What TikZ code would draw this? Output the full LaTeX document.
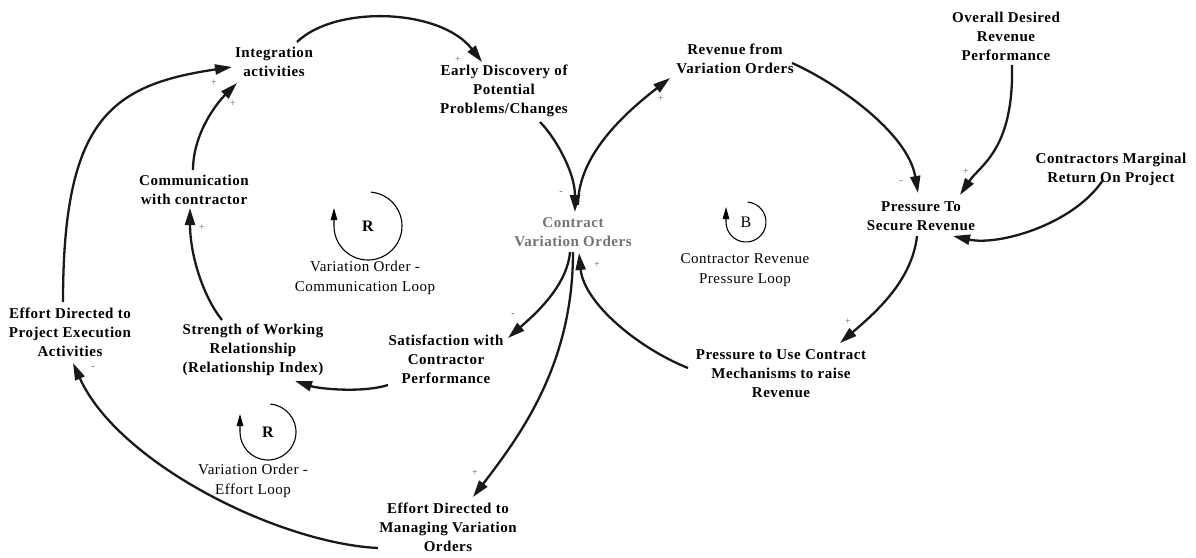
\documentclass[tikz,border=0pt]{standalone}
\usepackage{fontspec}
\setmainfont{Liberation Serif}
\newfontfamily\diagfont[LetterSpace=3.5]{Liberation Serif}
\usetikzlibrary{arrows.meta}
\begin{document}
\begin{tikzpicture}[x=1pt,y=-1pt,
  var/.style={font=\diagfont\fontsize{15}{19}\selectfont\bfseries, align=center, inner sep=0pt},
  cvo/.style={var, text=black!55},
  looplabel/.style={font=\diagfont\fontsize{15}{20}\selectfont, align=center, inner sep=0pt},
  loopsym/.style={font=\fontsize{16}{16}\selectfont\bfseries, inner sep=0pt},
  loopsymb/.style={font=\fontsize{16}{16}\selectfont, inner sep=0pt},
  sign/.style={font=\fontsize{10}{10}\selectfont, text=black!60, inner sep=0pt},
  link/.style={line width=2.3pt, draw=black!90, -{Triangle[length=17pt,width=10pt]}},
  loopline/.style={line width=1.1pt, -{Triangle[length=12pt,width=6.5pt]}}
]
\useasboundingbox (0,0) rectangle (1196,557);
\fill[white] (0,0) rectangle (1196,557);

% variables
\node[var] (int)      at (274,62)  {Integration\\activities};
\node[var] (early)    at (504,91)  {Early Discovery of\\Potential\\Problems/Changes};
\node[var] (rev)      at (735,59)  {Revenue from\\Variation Orders};
\node[var] (overall)  at (1006,36) {Overall Desired\\Revenue\\Performance};
\node[var] (marg)     at (1111,169){Contractors Marginal\\Return On Project};
\node[var] (press)    at (921,216) {Pressure To\\Secure Revenue};
\node[cvo] (cvo)      at (573,232) {Contract\\Variation Orders};
\node[var] (use)      at (781,374) {Pressure to Use Contract\\Mechanisms to raise\\Revenue};
\node[var] (sat)      at (446,359) {Satisfaction with\\Contractor\\Performance};
\node[var] (mgmt)     at (448,527) {Effort Directed to\\Managing Variation\\Orders};
\node[var] (strength) at (253,350) {Strength of Working\\Relationship\\(Relationship Index)};
\node[var] (comm)     at (194,190) {Communication\\with contractor};
\node[var] (exec)     at (70,332)  {Effort Directed to\\Project Execution\\Activities};

% loop markers
\node[loopsym] (r1) at (368,226) {R};
\draw[loopline] (r1.center) ++(-85:34) arc[start angle=-85, end angle=180, radius=34] -- ++(0,-18);
\node[looplabel] (l1) at (365,278) {Variation Order -\\Communication Loop};

\node[loopsym] (r2) at (268,432) {R};
\draw[loopline] (r2.center) ++(-85:28) arc[start angle=-85, end angle=180, radius=28] -- ++(0,-18);
\node[looplabel] (l2) at (253,481) {Variation Order -\\Effort Loop};

\node[loopsymb] (b1) at (746,222) {B};
\draw[loopline] (b1.center) ++(-85:20) arc[start angle=-85, end angle=180, radius=20] -- ++(0,-15);
\node[looplabel] (l3) at (745,270) {Contractor Revenue\\Pressure Loop};

% causal links
\draw[link] ([shift={(23,-20)}]int.center) .. controls +(38,-37) and +(-42,-54) .. ([shift={(-22,-29)}]early.center);
\draw[link] ([shift={(36,31)}]early.center) .. controls +(15,15) and +(0,-40) .. ([shift={(2,-20)}]cvo.center);
\draw[link] ([shift={(5,-27)}]cvo.center) .. controls +(0,-50) and +(-45,35) .. ([shift={(-65,19)}]rev.center);
\draw[link] ([shift={(57,4)}]rev.center) .. controls +(45,20) and +(-10,-60) .. ([shift={(-3,-23)}]press.center);
\draw[link] ([shift={(6,29)}]overall.center) .. controls +(2,85) and +(20,-30) .. ([shift={(39,-21)}]press.center);
\draw[link] ([shift={(-8,11)}]marg.center) .. controls +(-30,45) and +(45,10) .. ([shift={(32,20)}]press.center);
\draw[link] ([shift={(-4,20)}]press.center) .. controls +(-5,45) and +(35,-30) .. ([shift={(59,-31)}]use.center);
\draw[link] ([shift={(-93,-6)}]use.center) .. controls +(-50,-20) and +(5,50) .. ([shift={(6,21)}]cvo.center);
\draw[link] ([shift={(-3,20)}]cvo.center) .. controls +(-3,35) and +(25,-22) .. ([shift={(62,-21)}]sat.center);
\draw[link] ([shift={(0,20)}]cvo.center) .. controls +(0,110) and +(50,-65) .. ([shift={(25,-30)}]mgmt.center);
\draw[link] ([shift={(-58,26)}]sat.center) .. controls +(-25,8) and +(25,8) .. ([shift={(42,31)}]strength.center);
\draw[link] ([shift={(-31,-30)}]strength.center) .. controls +(-20,-25) and +(0,45) .. ([shift={(-4,18)}]comm.center);
\draw[link] ([shift={(-1,-20)}]comm.center) .. controls +(0,-35) and +(-22,22) .. ([shift={(-37,21)}]int.center);
\draw[link] ([shift={(-7,-30)}]exec.center) .. controls +(0,-182) and +(-122,18) .. ([shift={(-42,5)}]int.center);
\draw[link] ([shift={(-70,21)}]mgmt.center) .. controls +(-100,-5) and +(45,100) .. ([shift={(3,31)}]exec.center);

% polarity signs
\node[sign] (s1)  at (458,60)  {+};
\node[sign] (s2)  at (561,193) {-};
\node[sign] (s3)  at (661,99)  {+};
\node[sign] (s4)  at (901,182) {-};
\node[sign] (s5)  at (966,172) {+};
\node[sign] (s7)  at (848,322) {+};
\node[sign] (s8)  at (597,265) {+};
\node[sign] (s9)  at (513,315) {-};
\node[sign] (s10) at (475,473) {+};
\node[sign] (s12) at (202,228) {+};
\node[sign] (s13) at (233,104) {+};
\node[sign] (s14) at (214,83)  {+};
\node[sign] (s15) at (93,368)  {-};
\end{tikzpicture}
\end{document}
